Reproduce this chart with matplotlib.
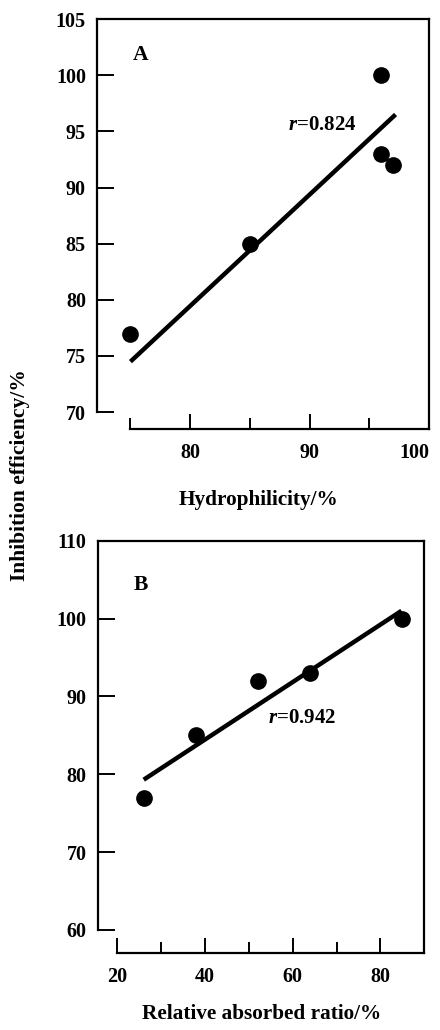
import matplotlib
matplotlib.use('Agg')
import matplotlib.pyplot as plt

matplotlib.rcParams['font.family'] = 'Liberation Serif'
matplotlib.rcParams['font.weight'] = 'bold'
matplotlib.rcParams['font.size'] = 14
matplotlib.rcParams['mathtext.fontset'] = 'custom'
matplotlib.rcParams['mathtext.it'] = 'Liberation Serif:italic:bold'
matplotlib.rcParams['mathtext.rm'] = 'Liberation Serif:bold'

# panel A: hydrophilicity vs inhibition efficiency
hydro_x = [75, 85, 96, 96, 97]
hydro_y = [77, 85, 100, 93, 92]
hydro_fit_x = [75, 97.2]
hydro_fit_y = [74.5, 96.5]

# panel B: relative absorbed ratio vs inhibition efficiency
absorb_x = [26, 38, 52, 64, 85]
absorb_y = [77, 85, 92, 93, 100]
absorb_fit_x = [26, 84.8]
absorb_fit_y = [79.3, 101.0]

fig = plt.figure(figsize=(4.4, 10.3), dpi=100)
ax1 = fig.add_axes([0.2205, 0.5835, 0.7545, 0.398])
ax2 = fig.add_axes([0.222, 0.0745, 0.7423, 0.4005])


def style(ax, xlim, ylim, xb, yb, xmaj, xmin, yticks):
    ax.set_xlim(*xlim)
    ax.set_ylim(*ylim)
    ax.spines['bottom'].set_bounds(*xb)
    ax.spines['left'].set_bounds(*yb)
    for s in ax.spines.values():
        s.set_linewidth(1.6)
    ax.set_xticks(xmaj)
    ax.set_xticks(xmin, minor=True)
    ax.set_yticks(yticks)
    ax.tick_params(axis='x', which='major', direction='in', length=11, width=1.4, pad=10)
    ax.tick_params(axis='x', which='minor', direction='in', length=8, width=1.4)
    ax.tick_params(axis='y', which='major', direction='in', length=12, width=1.4, pad=8)
    ax.tick_params(labelsize=14.5)


ax1.plot(hydro_fit_x, hydro_fit_y, color='black', lw=3.2, solid_capstyle='butt')
ax1.plot(hydro_x, hydro_y, 'o', color='black', ms=11)
style(ax1, (72.2, 100), (68.5, 105), (75, 100), (70, 105),
      [80, 90, 100], [75, 85, 95], [70, 75, 80, 85, 90, 95, 100, 105])
ax1.get_xticklabels()[-1].set_horizontalalignment('right')
ax1.text(75.2, 101.8, 'A', fontsize=15.5, va='center', ha='left')
ax1.text(88.2, 95.6, '$r$=0.824', fontsize=15, va='center', ha='left')

ax2.plot(absorb_fit_x, absorb_fit_y, color='black', lw=3.2, solid_capstyle='butt')
ax2.plot(absorb_x, absorb_y, 'o', color='black', ms=11)
style(ax2, (15.5, 90), (57.0, 110), (20, 90), (60, 110),
      [20, 40, 60, 80], [30, 50, 70], [60, 70, 80, 90, 100, 110])
ax2.text(23.6, 104.3, 'B', fontsize=15.5, va='center', ha='left')
ax2.text(54.4, 87.2, '$r$=0.942', fontsize=15, va='center', ha='left')

fig.text(259 / 440, 1 - 500 / 1030, 'Hydrophilicity/%', ha='center', va='center', fontsize=15.3)
fig.text(262 / 440, 1 - 1014 / 1030, 'Relative absorbed ratio/%', ha='center', va='center', fontsize=15.3)
fig.text(20 / 440, 1 - 475 / 1030, 'Inhibition efficiency/%', rotation=90, ha='center', va='center', fontsize=15.5)

fig.savefig('out.png', dpi=100)
